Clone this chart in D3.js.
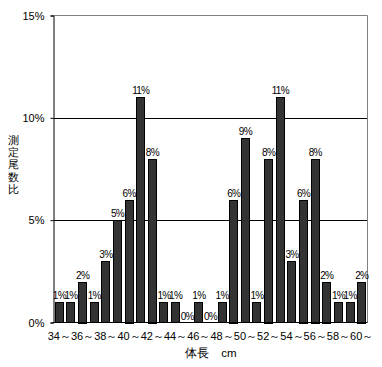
<!DOCTYPE html>
<html><head><meta charset="utf-8">
<script src="https://cdn.jsdelivr.net/npm/d3@7"></script>
<style>body{margin:0;background:#fff}svg{display:block}text{fill:#000}</style>
</head><body><svg id="c" width="382" height="367"></svg>
<script>
const lengths = [34,35,36,37,38,39,40,41,42,43,44,45,46,47,48,49,50,51,52,53,54,55,56,57,58,59,60];
const ratios = [1,1,2,1,3,5,6,11,8,1,1,0,1,0,1,6,9,1,8,11,3,6,8,2,1,1,2];
const yTicks = [0,5,10,15];
const xTickLabels = ["34～","36～","38～","40～","42～","44～","46～","48～","50～","52～","54～","56～","58～","60～"];
const yTitle = "測定尾数比";
const xTitle = "体長　cm";

const F = "Liberation Sans, DejaVu Sans, sans-serif";
const svg = d3.select("#c");
const L = 53.5, R = 367.5, T = 15.5, B = 322.5;
const x = d3.scaleBand().domain(lengths).range([L, R]).paddingInner(0.22).paddingOuter(0.11);
const y = d3.scaleLinear().domain([0,15]).range([B, T]);

svg.append("g").selectAll("line").data(yTicks.filter(d=>d>0&&d<15)).join("line")
  .attr("x1", L).attr("x2", R).attr("y1", d=>Math.round(y(d))+0.5).attr("y2", d=>Math.round(y(d))+0.5)
  .attr("stroke","#000");
svg.append("path").attr("d",`M${L},${T}H${R}V${B}`).attr("fill","none").attr("stroke","#808080");

svg.append("g").selectAll("rect").data(lengths).join("rect")
  .attr("x", (d)=>Math.round(x(d))+0.5)
  .attr("y", (d,i)=>Math.round(y(ratios[i]))+0.5)
  .attr("width", Math.round(x.bandwidth())-1)
  .attr("height", (d,i)=>Math.round(B-y(ratios[i])))
  .attr("fill","#333333").attr("stroke","#000");

const txt = svg.append("g").attr("font-family",F);
txt.selectAll("text").data(lengths).join("text")
  .attr("x", d=>x(d)+x.bandwidth()/2)
  .attr("y", (d,i)=>y(ratios[i])-3)
  .attr("text-anchor","middle").attr("font-size",10).attr("letter-spacing",-0.7)
  .text((d,i)=>ratios[i]+"%");

const ya = d3.axisLeft(y).tickValues(yTicks).tickSize(3).tickFormat(d=>d+"%");
const gy = svg.append("g").attr("transform",`translate(${L},0)`).call(ya);
gy.attr("font-family",F);
gy.select(".domain").attr("stroke","#000");
gy.selectAll("text").attr("font-size",11).attr("x",-9);

const xa = d3.axisBottom(x).tickSize(0).tickFormat((d,i)=> i%2===0 ? xTickLabels[i/2] : "");
const gx = svg.append("g").attr("transform",`translate(0,${B})`).call(xa);
gx.attr("font-family",F);
gx.select(".domain").attr("stroke","#000").attr("d",`M${L},0H${R}`);
gx.selectAll("text").attr("font-size",11).attr("dy","1.3em");

const tg = svg.append("g").attr("font-family",F);
tg.selectAll("text.yt").data(Array.from(yTitle)).join("text").attr("class","yt")
  .attr("x", 13).attr("y",(d,i)=>144+i*12.2).attr("text-anchor","middle")
  .attr("font-size",11).text(d=>d);
tg.append("text").attr("x",211).attr("y",357).attr("text-anchor","middle")
  .attr("font-size",11.5).text(xTitle);
</script></body></html>
